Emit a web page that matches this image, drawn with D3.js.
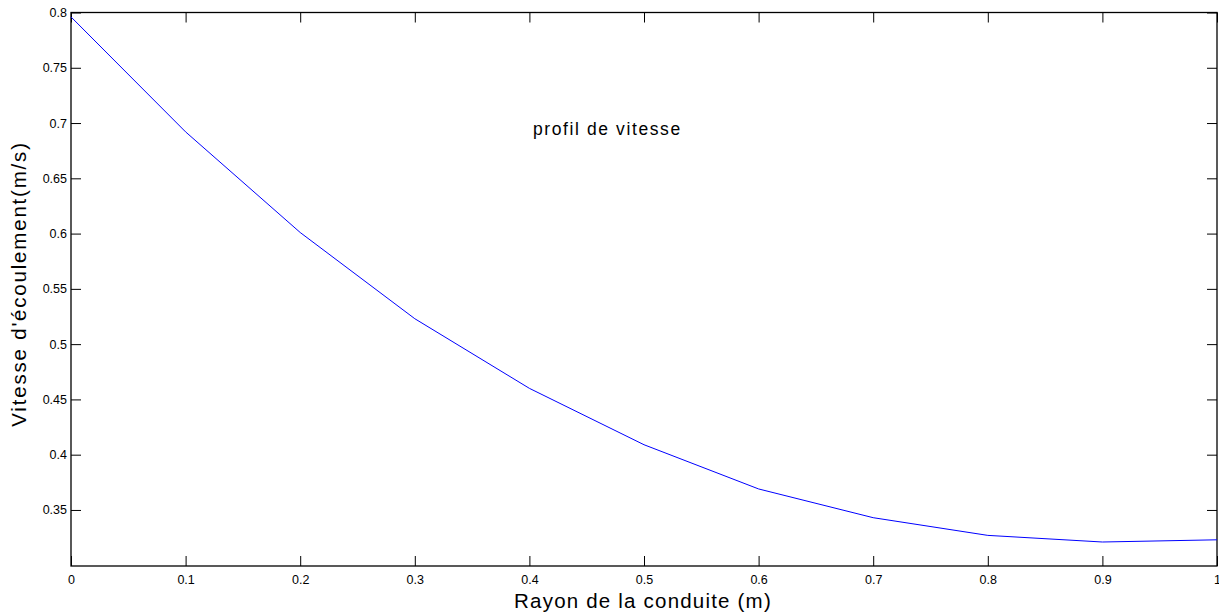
<!DOCTYPE html>
<html>
<head>
<meta charset="utf-8">
<script src="https://cdn.jsdelivr.net/npm/d3@7"></script>
<style>
  html, body { margin: 0; padding: 0; background: #fff; }
  svg { display: block; }
  text { font-family: "Liberation Sans", Arial, sans-serif; fill: #000; }
</style>
</head>
<body>
<svg id="chart" width="1219" height="616"></svg>
<script>
// Velocity profile across the pipe radius
const radius   = [0, 0.1, 0.2, 0.3, 0.4, 0.5, 0.6, 0.7, 0.8, 0.9, 1.0];
const velocity = [0.796, 0.692, 0.601, 0.523, 0.460, 0.409, 0.369, 0.343, 0.327, 0.321, 0.323];
const xTicks = [0, 0.1, 0.2, 0.3, 0.4, 0.5, 0.6, 0.7, 0.8, 0.9, 1];
const yTicks = [0.35, 0.4, 0.45, 0.5, 0.55, 0.6, 0.65, 0.7, 0.75, 0.8];
const xLabel = "Rayon de la conduite (m)";
const yLabel = "Vitesse d'écoulement(m/s)";
const note = "profil de vitesse";

const svg = d3.select("#chart");
const m = { left: 71, top: 12.5, right: 1217, bottom: 566 };

const x = d3.scaleLinear().domain([0, 1]).range([m.left, m.right]);
const y = d3.scaleLinear().domain([0.2993, 0.8]).range([m.bottom, m.top]);

const tickLen = 10;
const fmt = d => String(+d.toFixed(2));

// Bottom and left axes with inward ticks
const gx = svg.append("g").attr("transform", `translate(0,${m.bottom})`)
  .call(d3.axisBottom(x).tickValues(xTicks).tickFormat(fmt).tickSizeInner(-tickLen).tickSizeOuter(0).tickPadding(8));
const gy = svg.append("g").attr("transform", `translate(${m.left},0)`)
  .call(d3.axisLeft(y).tickValues(yTicks).tickFormat(fmt).tickSizeInner(-tickLen).tickSizeOuter(0).tickPadding(4));
// Mirrored ticks on top and right
const gt = svg.append("g").attr("transform", `translate(0,${m.top})`)
  .call(d3.axisTop(x).tickValues(xTicks).tickFormat("").tickSizeInner(-tickLen).tickSizeOuter(0));
const gr = svg.append("g").attr("transform", `translate(${m.right},0)`)
  .call(d3.axisRight(y).tickValues(yTicks).tickFormat("").tickSizeInner(-tickLen).tickSizeOuter(0));

[gx, gy, gt, gr].forEach(g => {
  g.select(".domain").remove();
  g.selectAll(".tick line").attr("stroke", "#000").attr("stroke-width", 1);
  g.selectAll(".tick text").attr("font-size", 12.5).attr("font-family", "Liberation Sans, Arial, sans-serif").attr("fill", "#000");
});
gx.selectAll(".tick text").attr("dy", null).attr("y", null).attr("transform", "translate(0,18)");

// Axes box
svg.append("rect")
  .attr("x", m.left).attr("y", m.top)
  .attr("width", m.right - m.left).attr("height", m.bottom - m.top)
  .attr("fill", "none").attr("stroke", "#000").attr("stroke-width", 1.3);

// Velocity curve
const line = d3.line().x((d, i) => x(radius[i])).y(d => y(d));
svg.append("path")
  .datum(velocity)
  .attr("d", line)
  .attr("fill", "none")
  .attr("stroke", "#0000ff")
  .attr("stroke-width", 1);

// Annotation
svg.append("text")
  .attr("x", 533).attr("y", 135)
  .attr("font-size", 17.5)
  .attr("letter-spacing", 1.6)
  .text(note);

// Axis titles
svg.append("text")
  .attr("x", 643).attr("y", 607.5)
  .attr("text-anchor", "middle").attr("font-size", 20.5)
  .attr("letter-spacing", 1.2)
  .text(xLabel);
svg.append("text")
  .attr("transform", `translate(26,284) rotate(-90)`)
  .attr("text-anchor", "middle").attr("font-size", 20.5)
  .attr("letter-spacing", 1.8)
  .text(yLabel);
</script>
</body>
</html>
